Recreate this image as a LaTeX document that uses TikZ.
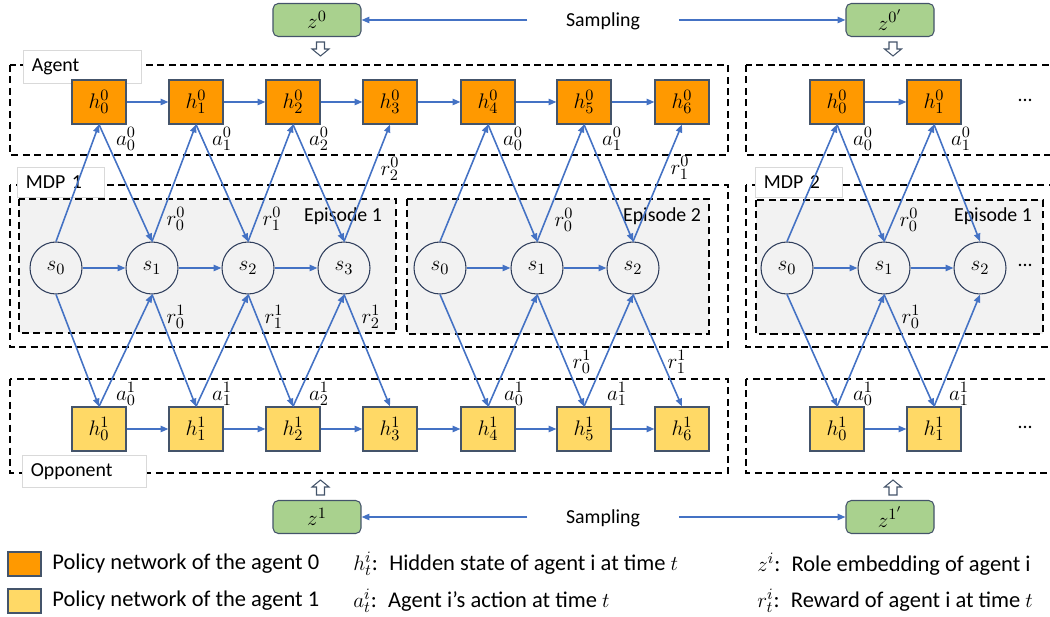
\documentclass[tikz,border=0pt]{standalone}
\usepackage{fontspec}
\setmainfont{Carlito}
\usetikzlibrary{arrows.meta}

\definecolor{orangefill}{HTML}{FF9900}
\definecolor{yellowfill}{HTML}{FFD966}
\definecolor{greenfill}{HTML}{A9D18E}
\definecolor{flowblue}{HTML}{4472C4}
\definecolor{boxedge}{HTML}{44546A}
\definecolor{statedge}{HTML}{2F3E5C}
\definecolor{episodegray}{HTML}{F2F2F2}

\begin{document}
\begin{tikzpicture}[x=0.02cm,y=-0.02cm,
    hbox/.style={draw=boxedge,line width=0.6pt,minimum width=1.08cm,minimum height=0.88cm,inner sep=0pt,font=\fontsize{13}{15}\selectfont},
    agentbox/.style={hbox,fill=orangefill},
    oppbox/.style={hbox,fill=yellowfill},
    stnode/.style={circle,draw=statedge,fill=episodegray,line width=0.6pt,minimum size=1.04cm,inner sep=0pt,font=\fontsize{13}{15}\selectfont},
    zbox/.style={rounded corners=3pt,draw=boxedge,fill=greenfill,line width=0.6pt,minimum width=1.76cm,minimum height=0.66cm,inner sep=0pt,font=\fontsize{13}{15}\selectfont},
    dashbox/.style={draw,dash pattern=on 4pt off 2.5pt,line width=0.6pt},
    episode/.style={dashbox,fill=episodegray},
    tagbox/.style={draw=gray!30,fill=white,anchor=north west,inner xsep=0.17cm,inner ysep=0pt,align=left,font=\fontsize{11.3}{13}\selectfont},
    txt/.style={font=\fontsize{11.3}{13}\selectfont,inner sep=0pt},
    legtxt/.style={font=\fontsize{12.8}{15}\selectfont,inner sep=0pt,anchor=west},
    legbox/.style={draw=boxedge,line width=0.6pt,minimum width=0.66cm,minimum height=0.48cm,inner sep=0pt},
    lbl/.style={font=\fontsize{13}{15}\selectfont,inner sep=0pt},
    flow/.style={->,flowblue,line width=0.9pt},
    hollow/.style={draw=boxedge,fill=white,line width=0.6pt},
    >={Triangle[length=4.5pt,width=3.6pt]}]

  \useasboundingbox (0,0) rectangle (1050,617);
  \clip (0,0) rectangle (1050,617);

  % --- containers ---
  \draw[dashbox] (10,65) rectangle (728,155);
  \draw[dashbox] (746,65) rectangle (1070,155);
  \draw[dashbox] (10,185) rectangle (728,347);
  \draw[dashbox] (746,185) rectangle (1070,347);
  \draw[dashbox] (10,379) rectangle (728,473);
  \draw[dashbox] (746,379) rectangle (1070,473);

  \node[tagbox,text width=2.02cm,minimum height=0.66cm] (agenttag) at (23,50) {Agent};
  \node[tagbox,text width=1.40cm,minimum height=0.60cm] (mdp1tag) at (17,167) {MDP 1};
  \node[tagbox,text width=1.40cm,minimum height=0.60cm] (mdp2tag) at (755,167) {MDP 2};
  \node[tagbox,text width=2.14cm,minimum height=0.64cm] (opptag) at (22,455) {Opponent};

  \draw[episode] (19,199) rectangle (396,333);
  \draw[episode] (407,199) rectangle (709,334);
  \draw[episode] (756,200) rectangle (1043,334);
  \node[txt] (ep1) at (343,216) {Episode 1};
  \node[txt] (ep2) at (662,216) {Episode 2};
  \node[txt] (ep3) at (993,216) {Episode 1};

  % --- sampling ---
  \node[zbox] (z0) at (317,20) {$z^0$};
  \node[zbox] (z0p) at (890,20) {$z^{0'}$};
  \node[zbox] (z1) at (317,517) {$z^1$};
  \node[zbox] (z1p) at (890,517) {$z^{1'}$};
  \node[txt,inner xsep=0.77cm] (samptop) at (603,21) {Sampling};
  \node[txt,inner xsep=0.77cm] (sampbot) at (603,518) {Sampling};
  \draw[flow] (samptop.west |- z0.east) -- (z0.east);
  \draw[flow] (samptop.east |- z0p.west) -- (z0p.west);
  \draw[flow] (sampbot.west |- z1.east) -- (z1.east);
  \draw[flow] (sampbot.east |- z1p.west) -- (z1p.west);

  \foreach \x in {320.5,893} {
    \draw[hollow] (\x-4,42) -- (\x+4,42) -- (\x+4,49) -- (\x+8.5,49) -- (\x,56)
      -- (\x-8.5,49) -- (\x-4,49) -- cycle;
    \draw[hollow] (\x,480) -- (\x+8.5,487) -- (\x+4,487) -- (\x+4,495)
      -- (\x-4,495) -- (\x-4,487) -- (\x-8.5,487) -- cycle;
  }

  % --- policy networks ---
  \foreach \i/\x in {0/99,1/196,2/293,3/390,4/488,5/584,6/682} {
    \node[agentbox] (a\i) at (\x,102) {$h^0_{\i}$};
    \node[oppbox] (o\i) at (\x,429) {$h^1_{\i}$};
  }
  \node[agentbox] (ra0) at (837,102) {$h^0_0$};
  \node[agentbox] (ra1) at (934,102) {$h^0_1$};
  \node[oppbox] (ro0) at (837,429) {$h^1_0$};
  \node[oppbox] (ro1) at (934,429) {$h^1_1$};
  \node[txt] (adots) at (1025,100) {...};
  \node[txt] (odots) at (1025,427) {...};

  \foreach \i/\j in {0/1,1/2,2/3,3/4,4/5,5/6} {
    \draw[flow] (a\i) -- (a\j);
    \draw[flow] (o\i) -- (o\j);
  }
  \draw[flow] (ra0) -- (ra1);
  \draw[flow] (ro0) -- (ro1);

  % --- states ---
  \foreach \i/\x in {0/56,1/152,2/248,3/344} \node[stnode] (e1s\i) at (\x,268) {$s_{\i}$};
  \foreach \i/\x in {0/440,1/537,2/633} \node[stnode] (e2s\i) at (\x,268) {$s_{\i}$};
  \foreach \i/\x in {0/787,1/884,2/980} \node[stnode] (m2s\i) at (\x,268) {$s_{\i}$};
  \node[txt] (sdots) at (1025,265) {...};

  \foreach \i/\j in {0/1,1/2,2/3} \draw[flow] (e1s\i) -- (e1s\j);
  \foreach \i/\j in {0/1,1/2} {
    \draw[flow] (e2s\i) -- (e2s\j);
    \draw[flow] (m2s\i) -- (m2s\j);
  }

  % --- rewards and actions ---
  \foreach \h/\s in {0/0,1/1,2/2,3/3} {
    \draw[flow] (e1s\s.north) -- (a\h.south);
    \draw[flow] (e1s\s.south) -- (o\h.north);
  }
  \foreach \h/\s in {0/1,1/2,2/3} {
    \draw[flow] (a\h.south) -- (e1s\s.north);
    \draw[flow] (o\h.north) -- (e1s\s.south);
  }
  \foreach \h/\s in {4/0,5/1,6/2} {
    \draw[flow] (e2s\s.north) -- (a\h.south);
    \draw[flow] (e2s\s.south) -- (o\h.north);
  }
  \foreach \h/\s in {4/1,5/2} {
    \draw[flow] (a\h.south) -- (e2s\s.north);
    \draw[flow] (o\h.north) -- (e2s\s.south);
  }
  \foreach \h/\s in {0/0,1/1} {
    \draw[flow] (m2s\s.north) -- (ra\h.south);
    \draw[flow] (m2s\s.south) -- (ro\h.north);
  }
  \foreach \h/\s in {0/1,1/2} {
    \draw[flow] (ra\h.south) -- (m2s\s.north);
    \draw[flow] (ro\h.north) -- (m2s\s.south);
  }

  \foreach \n/\x/\t in {1/126/a^0_0,2/222/a^0_1,3/319/a^0_2,4/513/a^0_0,5/612/a^0_1,6/863/a^0_0,7/961/a^0_1}
    \node[lbl] (aa\n) at (\x,139) {$\t$};
  \foreach \n/\x/\t in {1/126/a^1_0,2/222/a^1_1,3/319/a^1_2,4/514/a^1_0,5/617/a^1_1,6/863/a^1_0,7/959/a^1_1}
    \node[lbl] (oa\n) at (\x,394) {$\t$};
  \foreach \n/\x/\y/\t in {1/176/219/r^0_0,2/272/219/r^0_1,3/390/169/r^0_2,4/564/220/r^0_0,5/680/168/r^0_1,6/909/220/r^0_0}
    \node[lbl] (ar\n) at (\x,\y) {$\t$};
  \foreach \n/\x/\y/\t in {1/176/317/r^1_0,2/274/317/r^1_1,3/371/317/r^1_2,4/582/362/r^1_0,5/677/362/r^1_1,6/911/317/r^1_0}
    \node[lbl] (or\n) at (\x,\y) {$\t$};

  % --- legend ---
  \node[legbox,fill=orangefill] (leg0) at (24.5,564) {};
  \node[legbox,fill=yellowfill] (leg1) at (24.5,601) {};
  \node[legtxt] (legt0) at (52,564) {Policy network of the agent 0};
  \node[legtxt] (legt1) at (52,601) {Policy network of the agent 1};
  \node[legtxt] (legh) at (353,564) {$h^i_t$:\enspace Hidden state of agent i at time $t$};
  \node[legtxt] (lega) at (353,601) {$a^i_t$:\enspace Agent i’s action at time $t$};
  \node[legtxt] (legz) at (757,564) {$z^i$:\enspace Role embedding of agent i};
  \node[legtxt] (legr) at (757,601) {$r^i_t$:\enspace Reward of agent i at time $t$};

\end{tikzpicture}
\end{document}
